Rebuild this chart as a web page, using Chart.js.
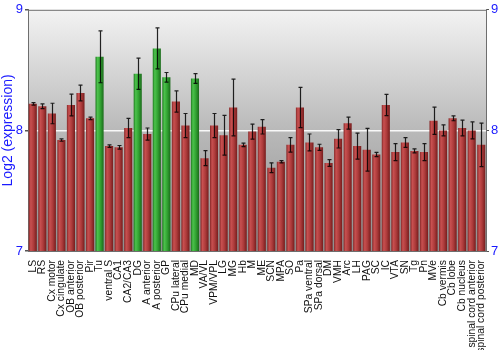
<!DOCTYPE html>
<html>
<head>
<meta charset="utf-8">
<script src="https://cdn.jsdelivr.net/npm/chart.js@4/dist/chart.umd.min.js"></script>
<style>
  html, body { margin: 0; padding: 0; background: #ffffff; }
  #wrap { width: 500px; height: 350px; }
</style>
</head>
<body>
<div id="wrap"><canvas id="c" width="500" height="350"></canvas></div>
<script>
// Brain regions (and spinal cord) sampled
const regions = [
  'LS', 'RS', 'Cx motor', 'Cx cingulate', 'OB anterior', 'OB posterior', 'Pir', 'Tu',
  'ventral S', 'CA1', 'CA2/CA3', 'DG', 'A anterior', 'A posterior', 'GP', 'CPu lateral',
  'CPu medial', 'MD', 'VA/VL', 'VPM/VPL', 'LG', 'MG', 'Hb', 'M',
  'ME', 'SCN', 'MPA', 'SO', 'Pa', 'SPa ventral', 'SPa dorsal', 'DM',
  'VMH', 'Arc', 'LH', 'PAG', 'SC', 'IC', 'VTA', 'SN',
  'Tg', 'Pn', 'MVe', 'Cb vermis', 'Cb lobe', 'Cb nucleus', 'spinal cord anterior', 'spinal cord posterior'
];

// Mean log2 expression per region
const meanExpr = [
  8.22, 8.20, 8.14, 7.92, 8.21, 8.31, 8.10, 8.61,
  7.87, 7.86, 8.02, 8.47, 7.97, 8.68, 8.44, 8.24,
  8.04, 8.43, 7.77, 8.04, 7.96, 8.19, 7.88, 7.99,
  8.03, 7.69, 7.74, 7.88, 8.19, 7.90, 7.86, 7.73,
  7.93, 8.06, 7.87, 7.84, 7.80, 8.21, 7.82, 7.90,
  7.83, 7.82, 8.08, 8.00, 8.10, 8.02, 8.00, 7.88
];

// Standard error of each mean
const stdErr = [
  0.01, 0.02, 0.085, 0.01, 0.09, 0.065, 0.01, 0.215,
  0.01, 0.015, 0.08, 0.13, 0.05, 0.17, 0.04, 0.088,
  0.10, 0.04, 0.062, 0.10, 0.165, 0.235, 0.015, 0.062,
  0.06, 0.04, 0.01, 0.06, 0.167, 0.07, 0.025, 0.028,
  0.076, 0.05, 0.108, 0.177, 0.018, 0.088, 0.07, 0.04,
  0.016, 0.07, 0.113, 0.045, 0.02, 0.066, 0.07, 0.18
];

// Regions flagged as enriched (1) versus the rest (0)
const enriched = [
  0, 0, 0, 0, 0, 0, 0, 1,
  0, 0, 0, 1, 0, 1, 1, 0,
  0, 1, 0, 0, 0, 0, 0, 0,
  0, 0, 0, 0, 0, 0, 0, 0,
  0, 0, 0, 0, 0, 0, 0, 0,
  0, 0, 0, 0, 0, 0, 0, 0
];

// Axis ticks
const yTicks = [7, 8, 9];

const FONT = '"Liberation Sans", Arial, sans-serif';
const BLUE = '#1a1aff';

const redStops = [[0, '#862828'], [0.25, '#c85050'], [0.6, '#ad3b3b'], [1, '#761d1d']];
const greenStops = [[0, '#1f7a1f'], [0.25, '#4cc24c'], [0.6, '#32a332'], [1, '#1b6b1b']];

function barFill(ctx) {
  const chart = ctx.chart;
  const xs = chart.scales.x;
  const i = ctx.dataIndex;
  const stops = enriched[i] ? greenStops : redStops;
  if (!xs || xs.width === undefined || i === undefined) return stops[1][1];
  const cx = xs.getPixelForValue(i);
  const half = (xs.width / regions.length) * 0.85 / 2;
  const g = chart.ctx.createLinearGradient(cx - half, 0, cx + half, 0);
  stops.forEach(s => g.addColorStop(s[0], s[1]));
  return g;
}

// Plot-area background: soft vertical grey ramp
const plotBackground = {
  id: 'plotBackground',
  beforeDraw(chart) {
    const { ctx, chartArea: a } = chart;
    const g = ctx.createLinearGradient(0, a.top, 0, a.bottom);
    g.addColorStop(0, '#f3f3f3');
    g.addColorStop(0.5, '#b9b9b9');
    g.addColorStop(1, '#8e8e8e');
    ctx.save();
    ctx.fillStyle = g;
    ctx.fillRect(a.left, a.top, a.right - a.left, a.bottom - a.top);
    ctx.restore();
  },
  afterDraw(chart) {
    const { ctx, chartArea: a } = chart;
    ctx.save();
    ctx.strokeStyle = '#6e6e6e';
    ctx.lineWidth = 1;
    ctx.beginPath();
    ctx.moveTo(a.left, a.top + 0.5);
    ctx.lineTo(a.right, a.top + 0.5);
    ctx.stroke();
    ctx.restore();
  }
};

// Error bars (mean ± SE) drawn on top of each bar
const errorBars = {
  id: 'errorBars',
  afterDatasetsDraw(chart) {
    const { ctx } = chart;
    const xs = chart.scales.x, ys = chart.scales.y;
    ctx.save();
    ctx.strokeStyle = 'rgba(0,0,0,0.85)';
    ctx.lineWidth = 1.2;
    meanExpr.forEach((m, i) => {
      const x = Math.round(xs.getPixelForValue(i)) + 0.5;
      const yHi = ys.getPixelForValue(m + stdErr[i]);
      const yLo = ys.getPixelForValue(m - stdErr[i]);
      ctx.beginPath();
      ctx.moveTo(x, yHi); ctx.lineTo(x, yLo);
      ctx.moveTo(x - 2, yHi); ctx.lineTo(x + 2, yHi);
      ctx.moveTo(x - 2, yLo); ctx.lineTo(x + 2, yLo);
      ctx.stroke();
    });
    ctx.restore();
  }
};

const gridColor = (c) => (c.tick && c.tick.value === 8) ? 'rgba(255,255,255,0.9)' : 'rgba(0,0,0,0)';

new Chart(document.getElementById('c'), {
  type: 'bar',
  data: {
    labels: regions,
    datasets: [{
      data: meanExpr,
      backgroundColor: barFill,
      borderWidth: 0,
      barPercentage: 0.85,
      categoryPercentage: 1.0
    }]
  },
  options: {
    responsive: false,
    animation: false,
    devicePixelRatio: 1,
    layout: { padding: { top: 9, right: 0, left: 0, bottom: 0 } },
    plugins: { legend: { display: false }, tooltip: { enabled: false } },
    scales: {
      x: {
        grid: { display: false },
        border: { display: true, color: '#6e6e6e' },
        ticks: {
          autoSkip: false,
          maxRotation: 90,
          minRotation: 90,
          padding: 1,
          color: '#111',
          font: { family: FONT, size: 10.3 }
        },
        afterFit(s) { s.height = 99; }
      },
      y: {
        position: 'left',
        min: 7, max: 9,
        afterBuildTicks(s) { s.ticks = yTicks.map(v => ({ value: v })); },
        grid: { color: gridColor, lineWidth: 1.5, tickLength: 3, drawTicks: true, tickColor: '#555' },
        border: { display: true, color: '#6e6e6e' },
        ticks: { color: BLUE, font: { family: FONT, size: 13 }, padding: 2 },
        title: {
          display: true,
          text: 'Log2 (expression)',
          color: BLUE,
          font: { family: FONT, size: 14 },
          padding: 0
        },
        afterFit(s) { s.width = 28; }
      },
      y2: {
        position: 'right',
        min: 7, max: 9,
        afterBuildTicks(s) { s.ticks = yTicks.map(v => ({ value: v })); },
        grid: { drawOnChartArea: false, tickLength: 3, tickColor: '#555' },
        border: { display: true, color: '#6e6e6e' },
        ticks: { color: BLUE, font: { family: FONT, size: 13 }, padding: 2 },
        afterFit(s) { s.width = 14; }
      }
    }
  },
  plugins: [plotBackground, errorBars]
});
</script>
</body>
</html>
